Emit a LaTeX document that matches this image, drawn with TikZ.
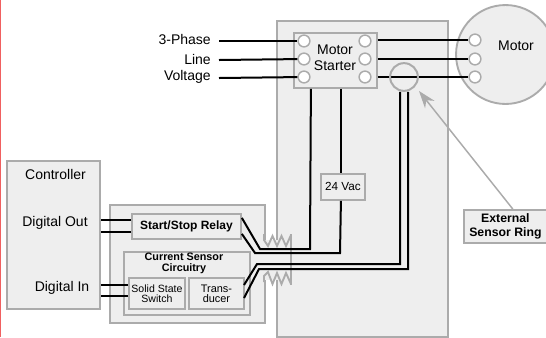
\documentclass[tikz,border=0pt]{standalone}
\usepackage{fontspec}
\setmainfont{Liberation Sans}
\usepackage{xcolor}
\usetikzlibrary{arrows.meta,positioning,calc}
\definecolor{panelfill}{HTML}{EEEEEE}
\definecolor{edgegray}{HTML}{ABABAB}
\definecolor{redline}{HTML}{F06060}
\begin{document}
\begin{tikzpicture}[x=0.75pt,y=-0.75pt,every node/.style={font=\fontsize{10.5}{12}\selectfont,align=center,inner sep=0pt},size/.style 2 args={minimum width=#1*0.75pt,minimum height=#2*0.75pt},panel/.style={draw=edgegray,fill=panelfill,line width=1.4pt},wire/.style={draw=black,line width=1.5pt,line join=miter},coil/.style={draw=edgegray,line width=1.4pt},term/.style={circle,draw=edgegray,fill=white,line width=1.1pt,minimum size=8.8pt},feed/.style={anchor=east,inner xsep=6pt}]
\useasboundingbox (0,0) rectangle (546,337);
\fill[white] (0,0) rectangle (546,337);
\draw[redline,line width=1pt] (0.5,0)--(0.5,337);
% panels
\node[panel,size={171}{316},anchor=north west] (cabinet) at (276,20) {};
\node[panel,size={155}{118},anchor=north west] (board) at (109,204) {};
\node[panel,size={93}{148},anchor=north west] (ctrl) at (6,160) {};
% gap between board and cabinet
\fill[panelfill] (262,240) rectangle (280,280);
\draw[coil] (264,234)--(264,240)--(268,246)--(272.5,236)--(277,246)--(281.5,236)--(286,246)--(291,235);
\draw[coil] (264,282)--(264,276)--(268,272)--(272.5,284)--(277,273)--(281.5,284)--(286,273)--(291,284);
\draw[coil] (291,234)--(291,285);
% motor
\node[circle,draw=edgegray,fill=panelfill,line width=1.4pt,minimum size=74.2pt] (motor) at (505.5,54.5) {};
\node at (516,46) {Motor};
\node[panel,size={83}{55},anchor=north west] (starter) at (293,32) {};
\node[font=\fontsize{10.5}{12}\selectfont] at (335,58) {Motor\\Starter};
\node[term] (sa) at (304,41) {};
\node[term] (sb) at (304,59) {};
\node[term] (sc) at (304,77) {};
\node[term] (ra) at (365,41) {};
\node[term] (rb) at (365,59) {};
\node[term] (rc) at (365,77) {};
\node[term] (ma) at (475,40) {};
\node[term] (mb) at (475,59) {};
\node[term] (mc) at (475,77) {};
\node[feed] (phase) at (219,39) {3-Phase};
\node[feed] (line) at (219,59) {Line};
\node[feed] (volt) at (219,76.5) {Voltage};
\coordinate (ina) at (219,41);
\coordinate (inb) at (219,60);
\coordinate (inc) at (219,78);
\draw[wire] (ina)--(sa);
\draw[wire] (inb)--(sb);
\draw[wire] (inc)--(sc);
\draw[wire] (starter.east |- ma)--(ma);
\draw[wire] (starter.east |- mb)--(mb);
\draw[wire] (starter.east |- mc)--(mc);
\node[circle,draw=edgegray,line width=1.5pt,minimum size=20.8pt] (ring) at (404,77) {};
% control side
\node at (55.5,174) {Controller};
\node at (55,223) {Digital Out};
\node at (62,288) {Digital In};
\node[panel,size={109}{25},anchor=north west,font=\fontsize{9}{10}\selectfont\bfseries] (relay) at (131,213) {Start/Stop Relay};
\node[panel,size={126}{63},anchor=north west] (sensor) at (123,251) {};
\node[anchor=north,font=\fontsize{8.1}{8.2}\selectfont\bfseries] at (184,253) {Current Sensor\\Circuitry};
\node[panel,size={56}{31},anchor=north west,font=\fontsize{7.9}{7.5}\selectfont] (ssw) at (128,277) {Solid State\\Switch};
\node[panel,size={55}{31},anchor=north west,font=\fontsize{8.2}{7.5}\selectfont] (trans) at (188,277) {Trans-\\ducer};
\node[panel,size={44}{26},anchor=north west,font=\fontsize{8.8}{9}\selectfont] (vac) at (320,173) {24 Vac};
\node[panel,size={83}{33},anchor=north west,font=\fontsize{9.2}{10.5}\selectfont\bfseries] (sring) at (463,209) {External\\Sensor Ring};
% wires to the relay and the switch
\draw[wire] ([yshift=4.9pt]relay.west)--([yshift=4.9pt]relay.west -| ctrl.east);
\draw[wire] ([yshift=-4.1pt]relay.west)--([yshift=-4.1pt]relay.west -| ctrl.east);
\draw[wire] ([yshift=6.4pt]ssw.west)--([yshift=6.4pt]ssw.west -| ctrl.east);
\draw[wire] ([yshift=-1.9pt]ssw.west)--([yshift=-1.9pt]ssw.west -| ctrl.east);
% wires through the gap
\draw[wire] ([xshift=-18.4pt]starter.south)--(310,249)--(260,249)--([yshift=6.4pt]relay.east);
\draw[wire] ([xshift=-1.5pt]vac.north |- starter.south)--([xshift=-1.5pt]vac.north);
\draw[wire] ([xshift=-1.5pt]vac.south)--(340,253)--(255,253)--([yshift=-5.6pt]relay.east);
\draw[wire] ([xshift=-3pt]ring.south)--(400,264)--(257,264)--(244,285);
\draw[wire] ([xshift=3pt]ring.south)--(408,269)--(259,269)--(244,298);
\coordinate (ringtip) at (419,91);
\draw[-{Stealth[length=13pt,width=9pt]},edgegray,line width=1.1pt] ([xshift=5.5pt]sring.north)--(ringtip);
\end{tikzpicture}
\end{document}
